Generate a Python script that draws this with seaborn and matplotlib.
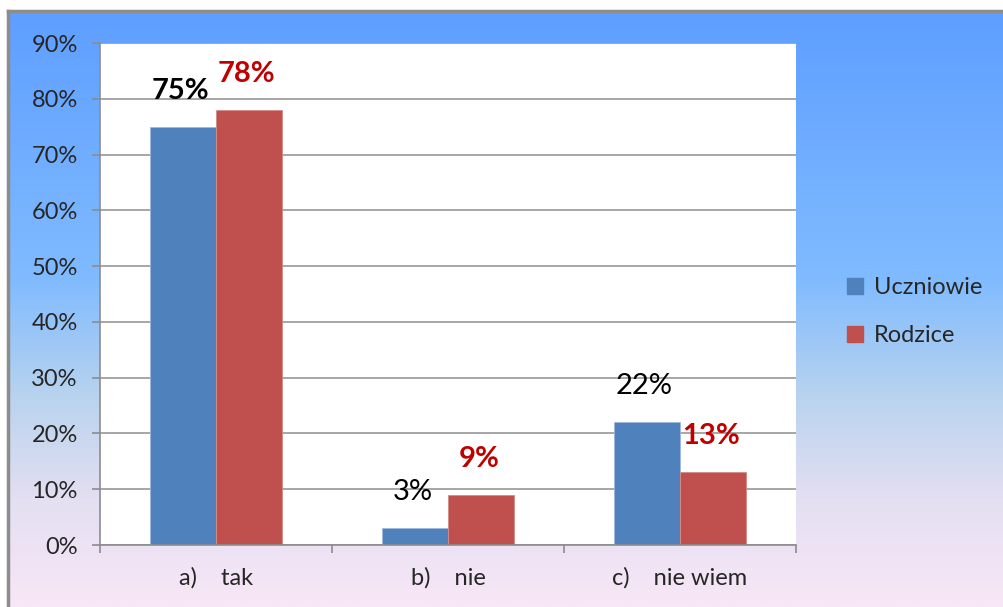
import numpy as np
import pandas as pd
import seaborn as sns
import matplotlib.pyplot as plt
from matplotlib.colors import LinearSegmentedColormap

categories = ['a)    tak', 'b)    nie', 'c)    nie wiem']
series = ['Uczniowie', 'Rodzice']
uczniowie = [75, 3, 22]
rodzice = [78, 9, 13]
yticks = [0, 10, 20, 30, 40, 50, 60, 70, 80, 90]

pal = ['#4F81BD', '#C0504D']
label_colors = ['black', '#C00000']
label_weights = [['bold', 'normal', 'normal'], ['bold', 'bold', 'bold']]

df = pd.DataFrame({
    'Odpowiedz': categories * 2,
    'Grupa': [series[0]] * 3 + [series[1]] * 3,
    'Procent': uczniowie + rodzice,
})

sns.set_style('white')
plt.rcParams['font.family'] = ['Lato', 'DejaVu Sans']

fig = plt.figure(figsize=(10.04, 6.07), dpi=100)
fig.patch.set_facecolor('white')

# background gradient panel
bg = fig.add_axes([8 / 1004, 0, 1 - 8 / 1004, (607 - 11) / 607])
grad_cmap = LinearSegmentedColormap.from_list('bg', [
    (0.0, '#5E9EFF'), (0.45, '#80BBFF'), (0.65, '#B9D3EE'),
    (0.82, '#E4DFF2'), (1.0, '#F8E7F6')])
bg.imshow(np.linspace(0, 1, 256).reshape(-1, 1), aspect='auto', cmap=grad_cmap,
          extent=[0, 1, 0, 1])
bg.set_xticks([])
bg.set_yticks([])
for side in ['right', 'bottom']:
    bg.spines[side].set_visible(False)
for side in ['left', 'top']:
    bg.spines[side].set_color('#8C8C8C')
    bg.spines[side].set_linewidth(2.5)

ax = fig.add_axes([100 / 1004, (607 - 545) / 607, (796 - 100) / 1004, (545 - 43) / 607])
ax.set_facecolor('white')
ax.set_axisbelow(True)

sns.barplot(data=df, x='Odpowiedz', y='Procent', hue='Grupa', palette=pal,
            width=0.57, gap=0, saturation=1, ax=ax, legend=True)

for i, cont in enumerate(ax.containers):
    vals = uczniowie if i == 0 else rodzice
    for j, bar in enumerate(cont):
        bar.set_edgecolor('#9DB9DC' if i == 0 else '#D58A88')
        bar.set_linewidth(0.6)
        ax.annotate(f'{vals[j]}%', (bar.get_x() + bar.get_width() / 2 - 0.01, bar.get_height()),
                    xytext=(0, 26), textcoords='offset points', ha='center', va='center',
                    fontsize=21, color=label_colors[i], fontweight=label_weights[i][j])

ax.set_ylim(0, 90)
ax.set_xlim(-0.5, 2.5)
ax.set_yticks(yticks)
ax.set_yticklabels([f'{t}%' for t in yticks], fontsize=17)
ax.yaxis.grid(True, color='#A6A6A6', linewidth=1.4)
ax.tick_params(axis='y', which='major', length=6, width=1.2, color='#8C8C8C', pad=10, left=True)
ax.set_xticks([0, 1, 2])
ax.set_xticklabels(categories, fontsize=17)
ax.set_xticks([-0.5, 0.5, 1.5, 2.5], minor=True)
ax.tick_params(axis='x', which='major', length=0, pad=16)
ax.tick_params(axis='x', which='minor', length=6, width=1.2, color='#8C8C8C', bottom=True)
ax.set_xlabel('')
ax.set_ylabel('')
for side in ['top', 'right']:
    ax.spines[side].set_visible(False)
for side in ['left', 'bottom']:
    ax.spines[side].set_color('#8C8C8C')
    ax.spines[side].set_linewidth(1.2)

leg = ax.legend(loc='center left', bbox_to_anchor=(1.06, 0.465), frameon=False, fontsize=17,
                handlelength=0.65, handleheight=0.65, handletextpad=0.5, labelspacing=1.15,
                borderaxespad=0)
for h, c in zip(leg.legend_handles, pal):
    h.set_edgecolor(c)

fig.savefig('out.png', dpi=100)
